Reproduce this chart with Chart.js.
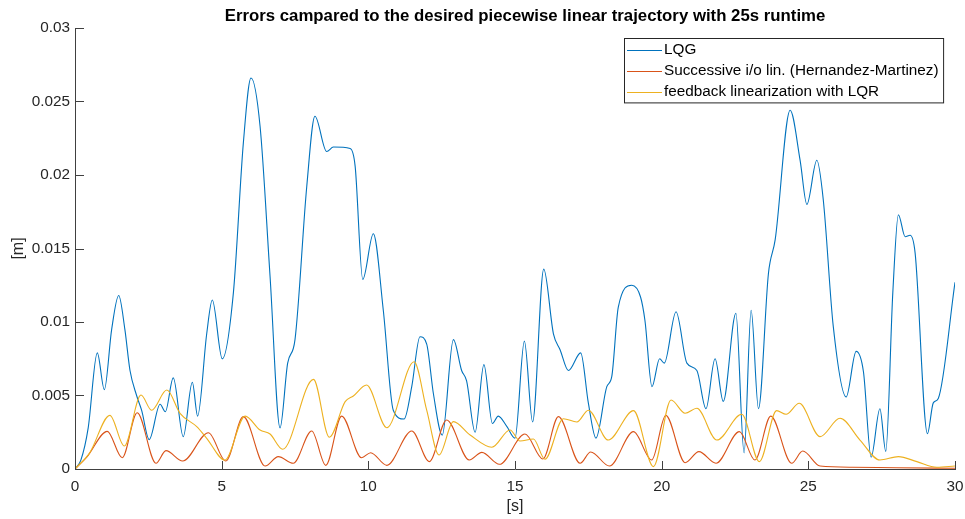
<!DOCTYPE html>
<html>
<head>
<meta charset="utf-8">
<script src="https://cdn.jsdelivr.net/npm/chart.js@4.4.1/dist/chart.umd.min.js"></script>
<style>
html,body{margin:0;padding:0;background:#fff;}
#wrap{width:965px;height:519px;}
</style>
</head>
<body>
<div id="wrap"><canvas id="c" width="965" height="519"></canvas></div>
<script>
// ---- data ----
const titleText = "Errors campared to the desired piecewise linear trajectory with 25s runtime";
const seriesNames = ["LQG", "Successive i/o lin. (Hernandez-Martinez)", "feedback linearization with LQR"];
const xTicks = [0, 5, 10, 15, 20, 25, 30];
const yTicks = [0, 0.005, 0.01, 0.015, 0.02, 0.025, 0.03];
const yTickLabels = ["0", "0.005", "0.01", "0.015", "0.02", "0.025", "0.03"];

const tLQG = [0,0.2,0.45,0.76,1.0,1.25,1.49,1.7,1.875,2.1,2.27,2.53,2.9,3.08,3.35,3.69,4.0,4.18,4.49,4.68,5.02,5.4,5.74,6.0,6.31,6.65,6.99,7.25,7.5,7.9,8.18,8.58,8.81,9.38,9.55,9.81,10.17,10.51,10.85,11.22,11.48,11.76,11.99,12.22,12.52,12.9,13.18,13.35,13.64,13.94,14.23,14.43,14.72,15.0,15.32,15.6,15.98,16.31,16.54,16.82,17.24,17.5,17.76,18.13,18.3,18.52,18.98,19.28,19.43,19.67,19.93,20.09,20.49,20.86,21.2,21.51,21.82,22.1,22.53,22.81,23.05,23.3,23.64,23.87,24.38,24.72,24.95,25.29,25.51,25.85,26.29,26.63,26.88,27.14,27.44,27.64,27.88,28.07,28.3,28.47,28.64,29.06,29.26,29.43,30.0];
const vLQG = [0,0.0006,0.0028,0.0079,0.0054,0.0095,0.0118,0.0095,0.0067,0.0050,0.0040,0.0020,0.0044,0.0039,0.0062,0.0022,0.0059,0.0036,0.0092,0.0115,0.0075,0.0120,0.0222,0.0266,0.0233,0.0131,0.0028,0.0072,0.0088,0.0192,0.0240,0.0216,0.0219,0.0218,0.0206,0.0129,0.0160,0.0108,0.0040,0.0034,0.0056,0.0090,0.0085,0.0051,0.0023,0.0088,0.0067,0.0060,0.0025,0.0071,0.0031,0.0036,0.0029,0.0021,0.0087,0.0032,0.0136,0.0092,0.0081,0.0067,0.0079,0.0045,0.0021,0.0056,0.0063,0.0110,0.0125,0.0117,0.0101,0.0056,0.0075,0.0072,0.0107,0.0072,0.0067,0.0041,0.0075,0.0046,0.0106,0.0011,0.0108,0.0041,0.0133,0.0156,0.0244,0.0210,0.0180,0.0210,0.0183,0.0097,0.0049,0.0080,0.0066,0.0008,0.0041,0.0012,0.0120,0.0173,0.0158,0.0159,0.0147,0.0024,0.0045,0.0048,0.0127];

const tSIO = [0,0.4,1.10,1.61,2.12,2.76,3.10,3.67,4.55,5.14,5.74,6.48,6.93,7.44,8.07,8.55,9.09,9.77,10.08,10.63,11.48,12.08,12.67,13.44,13.87,14.47,15.34,15.95,16.48,17.22,17.58,18.22,19.04,19.66,20.14,20.80,21.27,21.85,22.65,23.18,23.72,24.43,24.81,25.40,26.5,28,30];
const vSIO = [0,0.0008,0.00256,0.00077,0.00383,0.00039,0.00125,0.00054,0.00247,0.00054,0.00356,0.0002,0.00084,0.00039,0.00259,0.00025,0.0036,0.00077,0.00111,0.00025,0.00259,0.0005,0.00333,0.00061,0.00113,0.00032,0.00238,0.00068,0.00356,0.00039,0.00116,0.0002,0.00254,0.00061,0.00365,0.00043,0.00118,0.00039,0.00254,0.00061,0.0036,0.00039,0.00122,0.0002,0.00012,0.00008,0.00005];

const tFL = [0,0.5,1.19,1.68,2.25,2.61,3.13,3.58,4.15,4.49,5.11,5.80,6.31,6.65,7.08,8.13,8.67,9.21,9.49,9.94,10.63,11.56,11.99,12.41,12.90,13.47,14.21,14.83,15.17,15.63,16.02,16.65,17.11,17.50,18.18,19.04,19.72,20.32,20.80,21.20,21.88,22.73,23.33,23.92,24.24,24.69,25.40,26.08,26.76,27.44,28.07,28.70,29.38,30.0];
const vFL = [0,0.0011,0.00365,0.00156,0.00503,0.0040,0.00537,0.00379,0.00288,0.00209,0.00061,0.0036,0.00265,0.00238,0.00134,0.0061,0.00216,0.00458,0.00497,0.00571,0.00281,0.0073,0.0040,0.00095,0.00322,0.00231,0.00148,0.00265,0.0019,0.00204,0.00066,0.00342,0.0032,0.0040,0.00197,0.00397,0.00016,0.00469,0.00379,0.00413,0.00197,0.00372,0.0005,0.00397,0.00372,0.00447,0.0022,0.00345,0.00197,0.00061,0.00084,0.0005,0.00012,0.0002];

const colors = ["#0072BD", "#D95319", "#EDB120"];

// ---- chart ----
const FONT = '"Liberation Sans", Arial, Helvetica, sans-serif';
const AXIS = '#404040';
const FS = 15.3;
const pts = (t, v) => t.map((x, i) => ({x: x, y: v[i]}));

const axesTitle = {
  id: 'axesTitle',
  afterDraw(chart) {
    const {ctx, chartArea} = chart;
    ctx.save();
    ctx.font = 'bold 16.8px ' + FONT;
    ctx.fillStyle = '#000';
    ctx.textAlign = 'center';
    ctx.textBaseline = 'middle';
    ctx.fillText(titleText, (chartArea.left + chartArea.right) / 2 + 10, chartArea.top - 12);
    ctx.restore();
  }
};

const inwardTicks = {
  id: 'inwardTicks',
  afterDraw(chart) {
    const {ctx, chartArea, scales} = chart;
    ctx.save();
    ctx.strokeStyle = AXIS;
    ctx.lineWidth = 1;
    ctx.beginPath();
    xTicks.forEach(v => {
      const px = Math.round(scales.x.getPixelForValue(v)) + 0.5;
      ctx.moveTo(px, chartArea.bottom);
      ctx.lineTo(px, chartArea.bottom - 8);
    });
    yTicks.forEach(v => {
      const py = Math.round(scales.y.getPixelForValue(v)) + 0.5;
      ctx.moveTo(chartArea.left, py);
      ctx.lineTo(chartArea.left + 9, py);
    });
    ctx.stroke();
    ctx.restore();
  }
};

const legendBox = {
  id: 'legendBox',
  afterDraw(chart) {
    const {ctx, chartArea} = chart;
    const ds = chart.data.datasets;
    ctx.save();
    ctx.font = FS + 'px ' + FONT;
    const maxW = Math.max(...ds.map(d => ctx.measureText(d.label).width));
    const lineLen = 35, padL = 2.5, gap = 2, padR = 5, rowH = 21.3;
    const w = padL + lineLen + gap + maxW + padR;
    const h = rowH * ds.length + 0.5;
    const x = Math.round(chartArea.right - 12 - w) + 0.5;
    const y = Math.round(chartArea.top + 10) + 0.5;
    ctx.fillStyle = '#fff';
    ctx.fillRect(x, y, w, h);
    ctx.strokeStyle = '#262626';
    ctx.lineWidth = 1;
    ctx.strokeRect(x, y, w, h);
    ds.forEach((d, i) => {
      const cy = y + rowH * (i + 0.5) + 0.5;
      ctx.strokeStyle = d.borderColor;
      ctx.beginPath();
      ctx.moveTo(x + padL, Math.round(cy) + 0.5);
      ctx.lineTo(x + padL + lineLen, Math.round(cy) + 0.5);
      ctx.stroke();
      ctx.fillStyle = '#000';
      ctx.textBaseline = 'middle';
      ctx.textAlign = 'left';
      ctx.fillText(d.label, x + padL + lineLen + gap, cy);
    });
    ctx.restore();
  }
};

const lineDs = (label, data, color, order) => ({
  label, data, borderColor: color, backgroundColor: color,
  borderWidth: 1.1, pointRadius: 0, fill: false,
  cubicInterpolationMode: 'monotone', order
});

new Chart(document.getElementById('c'), {
  type: 'line',
  data: {
    datasets: [
      lineDs(seriesNames[0], pts(tLQG, vLQG), colors[0], 3),
      lineDs(seriesNames[1], pts(tSIO, vSIO), colors[1], 2),
      lineDs(seriesNames[2], pts(tFL, vFL), colors[2], 1)
    ]
  },
  options: {
    responsive: false,
    animation: false,
    layout: {padding: {right: 10, left: 0, top: 28, bottom: 0}},
    plugins: {
      legend: {display: false},
      tooltip: {enabled: false},
      title: {display: false}
    },
    scales: {
      x: {
        type: 'linear', min: 0, max: 30,
        afterFit(s) { s.height = 50; s.paddingLeft = 0; s.paddingRight = 0; },
        afterBuildTicks(s) { s.ticks = xTicks.map(v => ({value: v})); },
        grid: {display: false, drawTicks: false},
        border: {display: true, color: AXIS, width: 1},
        ticks: {color: '#262626', font: {family: FONT, size: FS}, padding: 9, maxRotation: 0, autoSkip: false},
        title: {display: true, text: '[s]', color: '#262626', font: {family: FONT, size: 16}, padding: {top: 2, bottom: 3}}
      },
      y: {
        type: 'linear', min: 0, max: 0.03,
        afterFit(s) { s.width = 75; s.paddingTop = 0; s.paddingBottom = 0; },
        afterBuildTicks(s) { s.ticks = yTicks.map(v => ({value: v})); },
        grid: {display: false, drawTicks: false},
        border: {display: true, color: AXIS, width: 1},
        ticks: {
          color: '#262626', font: {family: FONT, size: FS}, padding: 5, autoSkip: false,
          callback: (v) => { const i = yTicks.indexOf(v); return i >= 0 ? yTickLabels[i] : ''; }
        },
        title: {display: true, text: '[m]', color: '#262626', font: {family: FONT, size: 16}, padding: {top: 9, bottom: 9}}
      }
    }
  },
  plugins: [axesTitle, inwardTicks, legendBox]
});
</script>
</body>
</html>
